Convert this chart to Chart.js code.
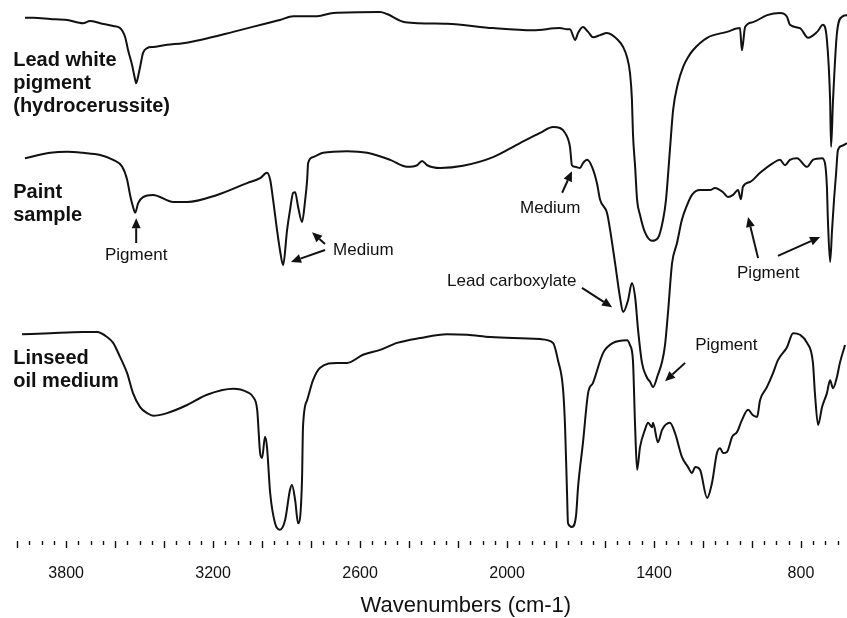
<!DOCTYPE html>
<html>
<head>
<meta charset="utf-8">
<title>FTIR spectra</title>
<script src="https://cdn.jsdelivr.net/npm/chart.js@4.4.1/dist/chart.umd.min.js"></script>
<style>
  html, body { margin: 0; padding: 0; background: #fff; }
  #wrap { width: 847px; height: 618px; }
</style>
</head>
<body>
<div id="wrap"><canvas id="chart" width="847" height="618"></canvas></div>
<script>
// spectra: wavenumber (cm-1) and relative transmittance, stacked top to bottom
const leadWhiteWn = [3968, 3935, 3865, 3796, 3731, 3702, 3661, 3608, 3580, 3559, 3547, 3531, 3518, 3514, 3506, 3498, 3486, 3469, 3445, 3388, 3323, 3253, 3118, 2980, 2927, 2873, 2775, 2710, 2518, 2490, 2416, 2245, 2057, 1894, 1784, 1755, 1743, 1722, 1710, 1690, 1669, 1649, 1620, 1592, 1547, 1526, 1510, 1498, 1490, 1486, 1477, 1469, 1457, 1437, 1408, 1384, 1363, 1351, 1335, 1322, 1302, 1281, 1261, 1241, 1183, 1102, 1049, 1041, 1028, 996, 938, 885, 857, 845, 804, 771, 734, 710, 694, 681, 677, 669, 653, 632, 612];
const leadWhiteT = [96.7, 96.7, 96.5, 96.3, 95.7, 96.1, 95.7, 95.2, 94.8, 93.1, 90.7, 88.0, 85.2, 84.6, 85.9, 87.6, 90.2, 91.1, 91.3, 91.7, 92.0, 92.6, 94.1, 95.7, 96.3, 97.0, 97.0, 97.6, 97.8, 97.4, 95.9, 95.6, 94.8, 94.4, 94.8, 94.6, 94.6, 92.6, 93.9, 95.0, 94.1, 93.1, 93.5, 93.9, 92.6, 91.3, 89.4, 86.5, 81.5, 75.4, 69.1, 63.0, 60.2, 57.0, 55.4, 55.9, 59.3, 63.0, 72.2, 79.6, 84.6, 87.6, 89.4, 90.7, 93.0, 94.1, 94.8, 90.7, 95.0, 95.9, 97.2, 97.6, 96.9, 95.4, 94.8, 93.0, 94.1, 95.4, 92.6, 81.5, 72.8, 81.5, 93.9, 96.9, 97.2];

const paintWn = [3968, 3865, 3796, 3731, 3661, 3608, 3571, 3551, 3539, 3527, 3518, 3506, 3486, 3445, 3363, 3306, 3184, 3061, 3008, 2980, 2967, 2955, 2939, 2927, 2914, 2898, 2886, 2873, 2865, 2853, 2837, 2824, 2816, 2812, 2792, 2751, 2653, 2571, 2477, 2408, 2367, 2347, 2326, 2273, 2180, 2057, 1947, 1865, 1812, 1784, 1763, 1743, 1735, 1722, 1702, 1690, 1673, 1653, 1633, 1620, 1592, 1579, 1559, 1539, 1526, 1506, 1490, 1477, 1465, 1449, 1428, 1416, 1404, 1384, 1367, 1355, 1343, 1326, 1306, 1286, 1265, 1245, 1212, 1171, 1151, 1118, 1098, 1077, 1057, 1045, 1037, 1008, 967, 914, 886, 865, 845, 816, 775, 751, 714, 702, 694, 690, 681, 673, 665, 657, 649, 632, 612];
const paintT = [70.7, 71.7, 71.9, 71.7, 71.3, 70.4, 69.1, 66.7, 63.9, 61.7, 60.6, 62.4, 63.5, 63.9, 62.6, 62.6, 63.9, 66.1, 67.0, 68.0, 66.7, 63.0, 57.4, 53.7, 50.9, 57.4, 61.1, 64.3, 64.4, 61.7, 58.9, 63.0, 66.7, 69.8, 70.9, 71.7, 72.0, 71.7, 70.4, 69.1, 69.4, 70.2, 69.4, 68.9, 69.3, 70.9, 73.5, 75.4, 76.5, 76.3, 75.4, 72.8, 69.4, 69.1, 68.9, 69.8, 70.4, 69.1, 66.1, 63.0, 60.6, 57.4, 51.3, 45.0, 42.2, 44.4, 47.6, 45.0, 38.9, 32.8, 30.0, 29.3, 28.3, 30.6, 33.0, 36.1, 42.0, 51.3, 55.0, 59.3, 62.0, 63.9, 64.8, 64.8, 65.2, 64.4, 63.5, 63.9, 64.8, 63.1, 65.4, 66.3, 68.0, 69.8, 70.4, 69.4, 70.4, 70.7, 69.1, 70.4, 70.7, 69.8, 65.4, 59.3, 51.5, 57.4, 63.0, 67.6, 72.2, 73.0, 73.5];

const linseedWn = [3980, 3865, 3731, 3674, 3633, 3608, 3580, 3551, 3527, 3498, 3469, 3445, 3388, 3306, 3225, 3118, 3061, 3037, 3020, 3008, 3000, 2988, 2980, 2967, 2947, 2927, 2906, 2886, 2878, 2865, 2853, 2837, 2833, 2816, 2792, 2763, 2694, 2653, 2588, 2518, 2449, 2355, 2245, 2163, 2069, 1975, 1865, 1812, 1792, 1771, 1763, 1755, 1751, 1735, 1718, 1710, 1690, 1669, 1649, 1608, 1567, 1510, 1498, 1486, 1477, 1469, 1457, 1437, 1424, 1408, 1404, 1384, 1367, 1335, 1314, 1286, 1261, 1245, 1232, 1212, 1183, 1163, 1143, 1130, 1118, 1102, 1081, 1061, 1041, 1016, 996, 979, 967, 939, 914, 894, 857, 832, 804, 775, 751, 743, 730, 714, 694, 681, 669, 653, 641, 620];
const linseedT = [38.1, 38.3, 38.5, 38.5, 37.6, 36.5, 33.9, 30.9, 27.2, 24.6, 23.5, 23.0, 23.5, 25.0, 26.9, 28.0, 27.4, 26.5, 24.1, 16.1, 15.2, 19.1, 17.2, 8.7, 3.1, 1.9, 3.7, 9.3, 10.2, 7.4, 3.1, 11.1, 20.9, 25.9, 29.6, 31.9, 32.8, 32.8, 34.3, 35.2, 36.5, 37.4, 38.1, 38.0, 37.6, 37.4, 37.2, 36.5, 33.3, 27.8, 20.9, 8.7, 3.1, 2.4, 4.6, 9.8, 18.0, 27.2, 29.1, 34.6, 36.5, 37.0, 36.1, 33.3, 20.9, 13.0, 17.2, 20.4, 21.7, 20.9, 21.7, 18.1, 20.4, 21.7, 19.8, 15.4, 13.5, 12.4, 13.5, 13.0, 7.8, 10.6, 16.1, 17.0, 16.1, 16.3, 19.1, 20.0, 22.2, 24.1, 23.1, 22.8, 25.9, 28.3, 30.9, 33.3, 35.7, 38.3, 38.0, 36.5, 32.8, 27.2, 21.3, 24.6, 27.2, 29.6, 28.1, 30.2, 32.8, 36.1];

const tickLabels = [3800, 3200, 2600, 2000, 1400, 800];
const axisTitle = 'Wavenumbers (cm-1)';

// sample names, anchored at the left edge of each trace
const seriesNames = [
  { lines: ['Lead white', 'pigment', '(hydrocerussite)'], wn: 4016, t: 87.8 },
  { lines: ['Paint', 'sample'], wn: 4016, t: 63.3 },
  { lines: ['Linseed', 'oil medium'], wn: 4016, t: 32.6 }
];

// band assignments: text anchor plus arrows [fromWn, fromT, toWn, toT]
const notes = [
  { text: 'Pigment', wn: 3514, t: 51.9, align: 'center', arrows: [[3514, 55.0, 3514, 59.6]] },
  { text: 'Medium', wn: 2710, t: 52.8, align: 'left', arrows: [[2743, 53.7, 2882, 51.5], [2743, 54.8, 2796, 57.0]] },
  { text: 'Medium', wn: 1947, t: 60.6, align: 'left', arrows: [[1775, 64.3, 1735, 68.3]] },
  { text: 'Lead carboxylate', wn: 2245, t: 47.0, align: 'left', arrows: [[1694, 46.7, 1571, 43.1]] },
  { text: 'Pigment', wn: 1061, t: 48.5, align: 'left', arrows: [[975, 52.2, 1016, 59.8], [894, 52.6, 722, 56.1]] },
  { text: 'Pigment', wn: 1232, t: 35.2, align: 'left', arrows: [[1273, 32.8, 1355, 29.4]] }
];

const INK = '#111';
const FONT = '"Liberation Sans", Arial, Helvetica, sans-serif';

function zip(wn, t) {
  const n = Math.min(wn.length, t.length);
  const out = [];
  for (let i = 0; i < n; i++) out.push({ x: wn[i], y: t[i] });
  return out;
}

function trace(label, wn, t) {
  return {
    label,
    data: zip(wn, t),
    borderColor: INK,
    borderWidth: 2,
    pointRadius: 0,
    cubicInterpolationMode: 'monotone',
    fill: false
  };
}

function drawArrow(ctx, x1, y1, x2, y2) {
  const a = Math.atan2(y2 - y1, x2 - x1);
  const head = 10, half = 4.5;
  const bx = x2 - head * Math.cos(a), by = y2 - head * Math.sin(a);
  ctx.beginPath();
  ctx.moveTo(x1, y1);
  ctx.lineTo(bx, by);
  ctx.stroke();
  ctx.beginPath();
  ctx.moveTo(x2, y2);
  ctx.lineTo(bx + half * Math.sin(a), by - half * Math.cos(a));
  ctx.lineTo(bx - half * Math.sin(a), by + half * Math.cos(a));
  ctx.closePath();
  ctx.fill();
}

// long marks every 200 cm-1, short ones every 50, hanging under the plot
const tickMarks = {
  id: 'tickMarks',
  afterDraw(chart) {
    const { ctx, chartArea } = chart;
    const x = chart.scales.x;
    ctx.save();
    ctx.strokeStyle = INK;
    ctx.lineWidth = 1.4;
    for (const tk of x.ticks) {
      const px = Math.round(x.getPixelForValue(tk.value)) + 0.5;
      const len = tk.value % 200 === 0 ? 7 : 4;
      ctx.beginPath();
      ctx.moveTo(px, chartArea.bottom + 1);
      ctx.lineTo(px, chartArea.bottom + 1 + len);
      ctx.stroke();
    }
    ctx.restore();
  }
};

const annotations = {
  id: 'annotations',
  afterDraw(chart) {
    const { ctx } = chart;
    const sx = chart.scales.x, sy = chart.scales.y;
    ctx.save();
    ctx.fillStyle = INK;
    ctx.strokeStyle = INK;
    ctx.textBaseline = 'alphabetic';

    ctx.font = `bold 20px ${FONT}`;
    ctx.textAlign = 'left';
    for (const s of seriesNames) {
      const x = sx.getPixelForValue(s.wn), y = sy.getPixelForValue(s.t);
      s.lines.forEach((line, i) => ctx.fillText(line, x, y + i * 23));
    }

    ctx.font = `17px ${FONT}`;
    ctx.lineWidth = 2;
    for (const n of notes) {
      ctx.textAlign = n.align;
      ctx.fillText(n.text, sx.getPixelForValue(n.wn), sy.getPixelForValue(n.t));
      for (const [w1, t1, w2, t2] of n.arrows) {
        drawArrow(ctx, sx.getPixelForValue(w1), sy.getPixelForValue(t1),
                       sx.getPixelForValue(w2), sy.getPixelForValue(t2));
      }
    }

    ctx.font = `22px ${FONT}`;
    ctx.textAlign = 'center';
    ctx.fillText(axisTitle, chart.width * 0.55, 612);
    ctx.restore();
  }
};

new Chart(document.getElementById('chart'), {
  type: 'line',
  data: {
    datasets: [
      trace('Lead white pigment (hydrocerussite)', leadWhiteWn, leadWhiteT),
      trace('Paint sample', paintWn, paintT),
      trace('Linseed oil medium', linseedWn, linseedT)
    ]
  },
  options: {
    responsive: false,
    animation: false,
    devicePixelRatio: 1,
    layout: { padding: 0 },
    plugins: { legend: { display: false }, tooltip: { enabled: false } },
    scales: {
      x: {
        type: 'linear',
        reverse: true,
        min: 612,
        max: 4070,
        afterBuildTicks: (scale) => {
          const t = [];
          for (let v = 650; v <= 4000; v += 50) t.push({ value: v });
          scale.ticks = t;
        },
        afterFit: (scale) => { scale.height = 78; },
        grid: { display: false },
        border: { display: false },
        ticks: {
          autoSkip: false,
          maxRotation: 0,
          padding: 16,
          color: INK,
          font: { family: FONT, size: 16 },
          callback: (v) => tickLabels.includes(v) ? String(v) : ''
        }
      },
      y: { display: false, min: 0, max: 100 }
    }
  },
  plugins: [tickMarks, annotations]
});
</script>
</body>
</html>
